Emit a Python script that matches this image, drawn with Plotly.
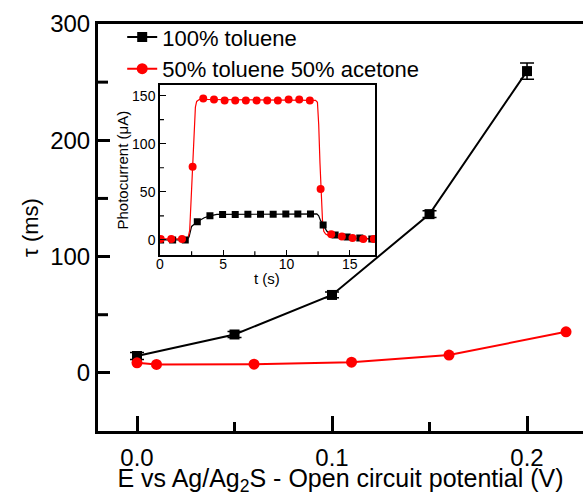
import plotly.graph_objects as go

# Main panel: relaxation time vs applied potential
pot_toluene = [0.0, 0.05, 0.10, 0.15, 0.20]
tau_toluene = [14.5, 33.0, 67.0, 136.5, 259.5]
err_toluene = [3.0, 2.5, 2.5, 3.0, 7.0]

pot_mix = [0.0, 0.01, 0.06, 0.11, 0.16, 0.22]
tau_mix = [8.6, 7.2, 7.5, 9.2, 15.3, 35.3]

# Inset: photocurrent transients (continuous traces)
t_line_toluene = [0, 2.1, 2.3, 2.5, 2.95, 3.5, 3.95, 4.5, 12.4, 12.55, 12.7, 12.9, 13.2, 13.6, 14.2, 15, 16, 17]
i_line_toluene = [0, 0, 3, 14, 19, 23, 25, 26.5, 27, 25, 20, 15.6, 9, 5, 3.5, 2, 1.5, 1]
t_line_mix = [0, 2.2, 2.35, 2.5, 2.6, 2.7, 2.8, 2.9, 3.1, 3.5, 12.3, 12.45, 12.55, 12.65, 12.75, 12.85, 12.95, 13.1, 13.4, 14, 15, 16, 17]
i_line_mix = [1, 1, 10, 55, 90, 120, 138, 144, 146, 146, 145, 143, 120, 80, 45, 20, 9, 6, 4, 3, 2, 1, 1]

# Inset: sampled points
t_pts_toluene = [0.05, 1.0, 2.0, 2.95, 3.95, 4.95, 5.95, 6.95, 7.95, 8.95, 9.95, 10.9, 11.9, 12.9, 13.85, 14.8, 15.8, 16.75]
i_pts_toluene = [0, 0, 0, 19, 25, 26.3, 26.5, 26.7, 26.8, 26.8, 27, 27, 27, 15.6, 5, 3, 2, 1]
t_pts_mix = [0.05, 0.89, 1.74, 2.58, 3.42, 4.27, 5.11, 5.95, 6.79, 7.64, 8.48, 9.32, 10.17, 11.01, 11.85, 12.7, 13.54, 14.38, 15.22, 16.07, 16.91]
i_pts_mix = [1, 1, 1, 76, 147, 146, 145, 145, 145, 145, 145, 145, 146, 146, 145, 53, 6, 3.5, 2, 1, 1]

# minor tick positions
minor_pot = [0.05, 0.15]
minor_tau = [50, 150, 250]
minor_t = [2.5, 7.5, 12.5]
minor_i = [25, 75, 125]

FONT = "Liberation Sans, Arial, sans-serif"
RED = "#ff0000"
TICK = "black"

fig = go.Figure()

fig.add_trace(go.Scatter(
    x=pot_toluene, y=tau_toluene, name="100% toluene",
    mode="lines+markers",
    line=dict(color="black", width=2),
    marker=dict(symbol="square", size=10, color="black"),
    error_y=dict(type="data", array=err_toluene, color="black", thickness=1.5, width=7),
))
fig.add_trace(go.Scatter(
    x=pot_mix, y=tau_mix, name="50% toluene 50% acetone",
    mode="lines+markers",
    line=dict(color=RED, width=2),
    marker=dict(symbol="circle", size=11, color=RED),
))

# inset traces
fig.add_trace(go.Scatter(x=t_line_toluene, y=i_line_toluene, mode="lines",
                         line=dict(color="black", width=1.2), xaxis="x2", yaxis="y2",
                         showlegend=False))
fig.add_trace(go.Scatter(x=t_line_mix, y=i_line_mix, mode="lines",
                         line=dict(color=RED, width=1.2), xaxis="x2", yaxis="y2",
                         showlegend=False))
fig.add_trace(go.Scatter(x=t_pts_toluene, y=i_pts_toluene, mode="markers",
                         marker=dict(symbol="square", size=7, color="black"),
                         xaxis="x2", yaxis="y2", showlegend=False))
fig.add_trace(go.Scatter(x=t_pts_mix, y=i_pts_mix, mode="markers",
                         marker=dict(symbol="circle", size=8, color=RED),
                         xaxis="x2", yaxis="y2", showlegend=False))


def minor_ticks_x(xref, yref, vals, length, width):
    """Short inward tick marks on the bottom edge of an x axis."""
    return [dict(type="line", xref=xref, yref=yref, ysizemode="pixel", yanchor=0,
                 x0=v, x1=v, y0=-1, y1=length, line=dict(color=TICK, width=width),
                 layer="above") for v in vals]


def minor_ticks_y(xref, yref, vals, length, width):
    """Short inward tick marks on the left edge of a y axis."""
    return [dict(type="line", xref=xref, yref=yref, xsizemode="pixel", xanchor=0,
                 x0=-1, x1=length, y0=v, y1=v, line=dict(color=TICK, width=width),
                 layer="above") for v in vals]


shapes = (minor_ticks_x("x", "y domain", minor_pot, 9, 3)
          + minor_ticks_y("x domain", "y", minor_tau, 10, 3)
          + minor_ticks_x("x2", "y2 domain", minor_t, 4, 1.2)
          + minor_ticks_y("x2 domain", "y2", minor_i, 4, 1.2))

fig.update_layout(
    width=583, height=496,
    margin=dict(l=98, r=0, t=24, b=65),
    paper_bgcolor="white", plot_bgcolor="white",
    font=dict(family=FONT, color="black"),
    showlegend=True,
    legend=dict(x=0.0499, y=1.019, xanchor="left", yanchor="top",
                bgcolor="rgba(0,0,0,0)", font=dict(size=22), tracegroupgap=0),
    shapes=shapes,
    annotations=[dict(text="t (s)", xref="x2 domain", yref="y2 domain",
                      x=0.5, y=0, yanchor="top", yshift=-13, showarrow=False,
                      font=dict(size=15))],
    xaxis=dict(
        range=[-0.02, 0.2287], domain=[0, 1], automargin=False,
        showgrid=False, zeroline=False,
        showline=True, linecolor="black", linewidth=3, mirror=True,
        ticks="inside", ticklen=15, tickwidth=3, tickcolor=TICK,
        tick0=0, dtick=0.1, tickformat=".1f",
        tickfont=dict(size=24), ticklabelstandoff=3,
        title=dict(text="E vs Ag/Ag<sub>2</sub>S - Open circuit potential (V)",
                   font=dict(size=25), standoff=21),
    ),
    yaxis=dict(
        range=[-50, 300], domain=[0, 1], automargin=False,
        showgrid=False, zeroline=False,
        showline=True, linecolor="black", linewidth=3, mirror=False,
        ticks="inside", ticklen=12, tickwidth=3, tickcolor=TICK,
        tick0=0, dtick=100,
        tickfont=dict(size=24), ticklabelstandoff=0,
        title=dict(text="τ (ms)", font=dict(size=22), standoff=6),
    ),
    xaxis2=dict(
        domain=[0.1278, 0.5711], anchor="y2", range=[0, 17],
        showgrid=False, zeroline=False,
        showline=True, linecolor="black", linewidth=1.5, mirror=True,
        ticks="inside", ticklen=6, tickwidth=1.2, tickcolor=TICK,
        tick0=0, dtick=5, tickfont=dict(size=14), ticklabelstandoff=-5,
    ),
    yaxis2=dict(
        domain=[0.4317, 0.85], anchor="x2", range=[-16, 161],
        showgrid=False, zeroline=False,
        showline=True, linecolor="black", linewidth=1.5, mirror=True,
        ticks="inside", ticklen=6, tickwidth=1.2, tickcolor=TICK,
        tick0=0, dtick=50, tickfont=dict(size=14), ticklabelstandoff=0,
        title=dict(text="Photocurrent (μA)", font=dict(size=15), standoff=0),
    ),
)

fig.write_html("out.html")
